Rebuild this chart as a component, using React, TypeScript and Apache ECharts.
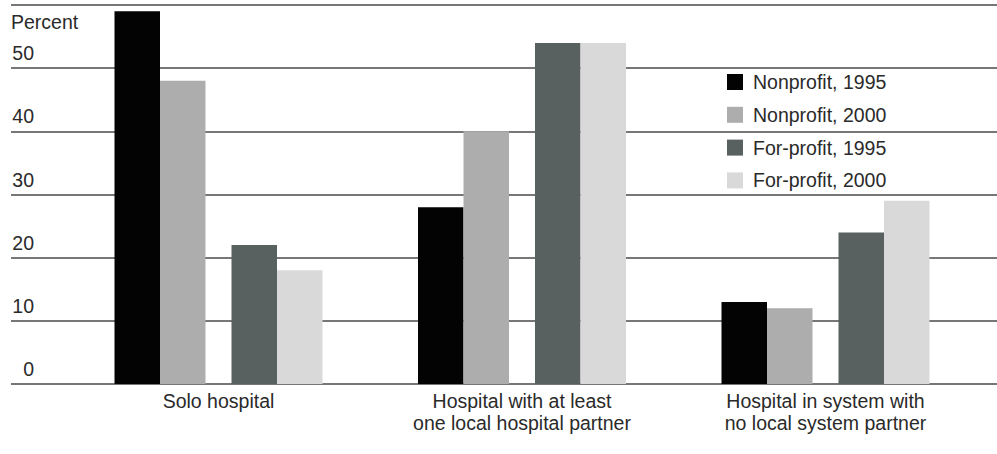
import React, { useEffect, useRef } from "react";
import * as echarts from "echarts";

const categories = [
  "Solo hospital",
  "Hospital with at least\none local hospital partner",
  "Hospital in system with\nno local system partner",
];
const seriesNames = ["Nonprofit, 1995", "Nonprofit, 2000", "For-profit, 1995", "For-profit, 2000"];
const nonprofit1995 = [59, 28, 13];
const nonprofit2000 = [48, 40, 12];
const forprofit1995 = [22, 54, 24];
const forprofit2000 = [18, 54, 29];
const seriesColors = ["#030303", "#adadad", "#586060", "#d9d9d9"];
const yTicks = [0, 10, 20, 30, 40, 50, 60];
const yAxisTitle = "Percent";

const FONT = "'Liberation Sans', Arial, sans-serif";
const TEXT = "#2a2a2a";

export default function App() {
  const ref = useRef<HTMLDivElement>(null);
  useEffect(() => {
    if (!ref.current) return;
    const chart = echarts.init(ref.current, undefined, { renderer: "svg" });
    const values = [nonprofit1995, nonprofit2000, forprofit1995, forprofit2000];
    const barSeries: any[] = [];
    values.forEach((d, i) => {
      if (i === 2) {
        barSeries.push({
          name: "_gap",
          type: "bar",
          xAxisIndex: 1,
          yAxisIndex: 1,
          barWidth: 26,
          barGap: "0%",
          data: categories.map(() => "-"),
        });
      }
      barSeries.push({
        name: seriesNames[i],
        type: "bar",
        xAxisIndex: 1,
        yAxisIndex: 1,
        barWidth: 45.5,
        barGap: "0%",
        itemStyle: { color: seriesColors[i] },
        data: d,
      });
    });
    chart.setOption({
      animation: false,
      textStyle: { fontFamily: FONT },
      grid: [
        { left: 11, right: 0, top: 5, bottom: 70 },
        { left: 66.75, right: 19.75, top: 5, bottom: 70 },
      ],
      xAxis: [
        { type: "category", gridIndex: 0, show: false, data: categories },
        {
          type: "category",
          gridIndex: 1,
          data: categories,
          axisLine: { show: false },
          axisTick: { show: false },
          axisLabel: {
            color: TEXT,
            fontSize: 19.5,
            fontFamily: FONT,
            lineHeight: 22,
            margin: 6,
            interval: 0,
          },
        },
      ],
      yAxis: [
        {
          type: "value",
          gridIndex: 0,
          min: yTicks[0],
          max: yTicks[yTicks.length - 1],
          interval: 10,
          axisLine: { show: false },
          axisTick: { show: false },
          splitLine: { lineStyle: { color: "#4a4a4a", width: 1.6 } },
          axisLabel: {
            inside: true,
            align: "right",
            verticalAlign: "bottom",
            margin: 23,
            padding: [0, 0, 5, 0],
            lineHeight: 20,
            color: TEXT,
            fontSize: 19.5,
            fontFamily: FONT,
            formatter: (v: number) => (v === yTicks[yTicks.length - 1] ? "" : String(v)),
          },
        },
        {
          type: "value",
          gridIndex: 1,
          min: yTicks[0],
          max: yTicks[yTicks.length - 1],
          interval: 10,
          show: false,
          splitLine: { show: false },
        },
      ],
      legend: {
        data: seriesNames,
        orient: "vertical",
        left: 722,
        top: 67,
        icon: "rect",
        itemWidth: 16,
        itemHeight: 16,
        itemGap: 12.8,
        selectedMode: false,
        textStyle: {
          color: TEXT,
          fontSize: 19.5,
          fontFamily: FONT,
          lineHeight: 20,
          padding: [0, 0, 0, 5],
        },
      },
      graphic: [
        {
          type: "text",
          left: 11,
          top: 12,
          style: { text: yAxisTitle, fill: TEXT, fontSize: 19.5, fontFamily: FONT },
        },
      ],
      series: barSeries,
    });
    return () => chart.dispose();
  }, []);
  return (
    <div
      ref={ref}
      style={{ position: "fixed", left: 0, top: 0, width: 997, height: 454, background: "#fff" }}
    />
  );
}
